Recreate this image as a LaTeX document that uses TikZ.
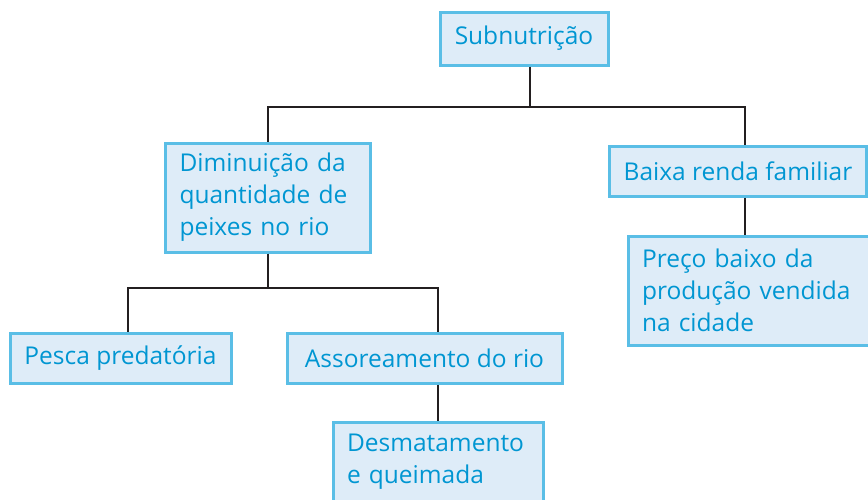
\documentclass[tikz,border=0pt]{standalone}
\usepackage{fontspec}
\usepackage{tikz}
\newfontfamily\boxfont{Open Sans}
\definecolor{boxline}{RGB}{90, 190, 230}
\definecolor{boxfill}{RGB}{222, 236, 248}
\definecolor{boxtext}{RGB}{0, 150, 210}
\definecolor{linkgrey}{RGB}{35, 31, 32}

\begin{document}
\begin{tikzpicture}
  [
    x=1pt, y=-1pt,
    box/.style={draw=boxline, fill=boxfill, line width=3pt, text=boxtext,
      font=\boxfont\fontsize{24.5}{32}\selectfont, inner xsep=14pt, inner ysep=0pt},
    single/.style={box, minimum height=50pt},
    multi/.style={box, align=left},
    link/.style={line width=2.6pt, linkgrey}
  ]
  \useasboundingbox (0, 0) rectangle (868, 499);

  \coordinate (top) at (530, 107);
  \coordinate (right) at (745, 107);
  \coordinate (low) at (268, 288);
  \coordinate (lowleft) at (128, 288);
  \coordinate (lowright) at (438, 288);

  \node[single, minimum width=168pt, minimum height=53pt] (sub) at (524, 38.5) {Subnutrição};
  \node[multi, text width=177pt, minimum height=109pt] (dim) at (268, 197.5) {Diminuição da\\quantidade de\\peixes no rio};
  \node[single, minimum width=252pt] (baixa) at (738, 171) {Baixa renda familiar};
  \node[multi, text width=222pt, minimum height=109pt] (preco) at (753, 290.5) {Preço baixo da\\produção vendida\\na cidade};
  \node[single, minimum width=221pt] (pesca) at (120.5, 358) {Pesca predatória};
  \node[single, minimum width=275pt] (asso) at (424.5, 358) {Assoreamento do rio};
  \node[multi, text width=182pt, minimum height=80pt] (desm) at (438, 462) {Desmatamento\\e queimada};

  \draw[link] (sub.south -| top) -- (top);
  \draw[link] (dim.north) |- (right) -- (right |- baixa.north);
  \draw[link] (right |- baixa.south) -- (right |- preco.north);
  \draw[link] (dim.south) -- (low);
  \draw[link] (lowleft |- pesca.north) |- (lowright) -- (lowright |- asso.north);
  \draw[link] (asso.south -| lowright) -- (desm.north);
\end{tikzpicture}
\end{document}
